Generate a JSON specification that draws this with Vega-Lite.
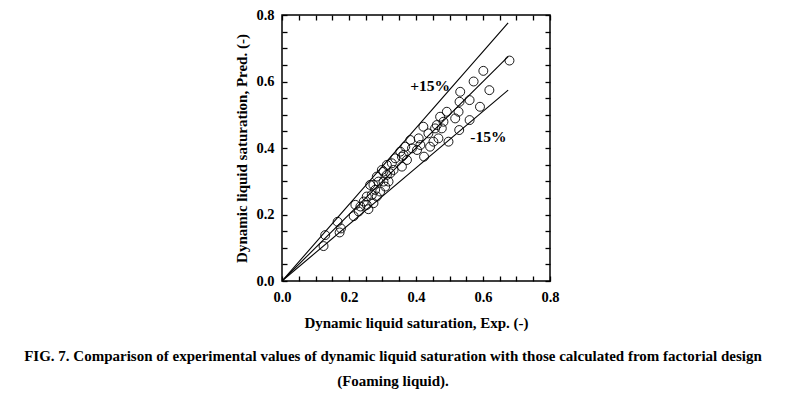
{
  "$schema": "https://vega.github.io/schema/vega-lite/v6.json",
  "width": 268,
  "height": 266,
  "autosize": {"type": "none"},
  "padding": {"left": 282, "top": 15, "right": 237, "bottom": 114},
  "background": "white",
  "config": {
    "view": {"stroke": "black", "strokeWidth": 1.5},
    "font": "Liberation Serif",
    "axis": {
      "domain": false,
      "grid": false,
      "ticks": true,
      "zindex": 2,
      "labelFont": "Liberation Serif",
      "labelFontWeight": "bold",
      "labelFontSize": 14.5,
      "labelColor": "black",
      "titleFont": "Liberation Serif",
      "titleFontWeight": "bold",
      "titleFontSize": 15,
      "titleColor": "black",
      "tickColor": "#000000",
      "tickOpacity": 1,
      "tickWidth": 1.3,
      "labelOverlap": false,
      "labelFlush": false
    }
  },
  "title": {
    "text": ["FIG. 7. Comparison of experimental values of dynamic liquid saturation with those calculated from factorial design", "(Foaming liquid)."],
    "orient": "bottom",
    "anchor": "middle",
    "frame": "group",
    "dx": -23,
    "offset": 18,
    "font": "Liberation Serif",
    "fontSize": 15,
    "fontWeight": "bold",
    "color": "black",
    "lineHeight": 25
  },
  "datasets": {
    "pts": [
      {"exp": 0.124, "pred": 0.105},
      {"exp": 0.129, "pred": 0.138},
      {"exp": 0.166, "pred": 0.178},
      {"exp": 0.172, "pred": 0.146},
      {"exp": 0.176, "pred": 0.158},
      {"exp": 0.214, "pred": 0.195},
      {"exp": 0.219, "pred": 0.229},
      {"exp": 0.234, "pred": 0.224},
      {"exp": 0.229, "pred": 0.209},
      {"exp": 0.244, "pred": 0.239},
      {"exp": 0.253, "pred": 0.254},
      {"exp": 0.253, "pred": 0.229},
      {"exp": 0.258, "pred": 0.216},
      {"exp": 0.263, "pred": 0.289},
      {"exp": 0.268, "pred": 0.259},
      {"exp": 0.273, "pred": 0.234},
      {"exp": 0.273, "pred": 0.289},
      {"exp": 0.278, "pred": 0.274},
      {"exp": 0.283, "pred": 0.314},
      {"exp": 0.288, "pred": 0.299},
      {"exp": 0.283, "pred": 0.254},
      {"exp": 0.293, "pred": 0.269},
      {"exp": 0.298, "pred": 0.334},
      {"exp": 0.303, "pred": 0.299},
      {"exp": 0.303, "pred": 0.329},
      {"exp": 0.308, "pred": 0.284},
      {"exp": 0.313, "pred": 0.349},
      {"exp": 0.313, "pred": 0.319},
      {"exp": 0.318, "pred": 0.299},
      {"exp": 0.323, "pred": 0.324},
      {"exp": 0.328, "pred": 0.354},
      {"exp": 0.333, "pred": 0.334},
      {"exp": 0.338, "pred": 0.369},
      {"exp": 0.358, "pred": 0.344},
      {"exp": 0.358, "pred": 0.374},
      {"exp": 0.353, "pred": 0.389},
      {"exp": 0.363, "pred": 0.379},
      {"exp": 0.368, "pred": 0.404},
      {"exp": 0.373, "pred": 0.364},
      {"exp": 0.383, "pred": 0.424},
      {"exp": 0.388, "pred": 0.399},
      {"exp": 0.403, "pred": 0.394},
      {"exp": 0.408, "pred": 0.429},
      {"exp": 0.413, "pred": 0.409},
      {"exp": 0.422, "pred": 0.464},
      {"exp": 0.424, "pred": 0.374},
      {"exp": 0.437, "pred": 0.444},
      {"exp": 0.442, "pred": 0.404},
      {"exp": 0.452, "pred": 0.419},
      {"exp": 0.457, "pred": 0.459},
      {"exp": 0.462, "pred": 0.469},
      {"exp": 0.467, "pred": 0.429},
      {"exp": 0.472, "pred": 0.494},
      {"exp": 0.477, "pred": 0.459},
      {"exp": 0.482, "pred": 0.479},
      {"exp": 0.492, "pred": 0.509},
      {"exp": 0.497, "pred": 0.419},
      {"exp": 0.517, "pred": 0.489},
      {"exp": 0.527, "pred": 0.509},
      {"exp": 0.529, "pred": 0.454},
      {"exp": 0.530, "pred": 0.539},
      {"exp": 0.532, "pred": 0.569},
      {"exp": 0.560, "pred": 0.544},
      {"exp": 0.560, "pred": 0.484},
      {"exp": 0.572, "pred": 0.600},
      {"exp": 0.591, "pred": 0.524},
      {"exp": 0.601, "pred": 0.632},
      {"exp": 0.619, "pred": 0.574},
      {"exp": 0.679, "pred": 0.663}
    ],
    "lines": [
      {"s": "plus", "exp": 0, "pred": 0},
      {"s": "plus", "exp": 0.675, "pred": 0.776},
      {"s": "mid", "exp": 0, "pred": 0},
      {"s": "mid", "exp": 0.675, "pred": 0.675},
      {"s": "minus", "exp": 0, "pred": 0},
      {"s": "minus", "exp": 0.675, "pred": 0.574}
    ],
    "labels": [
      {"exp": 0.442, "pred": 0.586, "t": "+15%"},
      {"exp": 0.616, "pred": 0.434, "t": "-15%"}
    ]
  },
  "resolve": {"axis": {"x": "independent", "y": "independent"}},
  "layer": [
    {
      "data": {"name": "lines"},
      "mark": {"type": "line", "color": "black", "strokeWidth": 1.1, "clip": true},
      "encoding": {
        "x": {
          "field": "exp", "type": "quantitative",
          "scale": {"domain": [0, 0.8], "nice": false, "zero": false},
          "axis": {
            "orient": "bottom",
            "title": "Dynamic liquid saturation, Exp. (-)",
            "values": [0, 0.05, 0.1, 0.15, 0.2, 0.25, 0.3, 0.35, 0.4, 0.45, 0.5, 0.55, 0.6, 0.65, 0.7, 0.75, 0.8],
            "format": ".1f",
            "labelExpr": "round(datum.value*20) % 4 == 0 ? datum.label : ''",
            "offset": -5,
            "tickSize": 5,
            "labelPadding": 9,
            "titlePadding": 12
          }
        },
        "y": {
          "field": "pred", "type": "quantitative",
          "scale": {"domain": [0, 0.8], "nice": false, "zero": false},
          "axis": {
            "orient": "left",
            "title": "Dynamic liquid saturation, Pred. (-)",
            "values": [0, 0.05, 0.1, 0.15, 0.2, 0.25, 0.3, 0.35, 0.4, 0.45, 0.5, 0.55, 0.6, 0.65, 0.7, 0.75, 0.8],
            "format": ".1f",
            "labelExpr": "round(datum.value*20) % 4 == 0 ? datum.label : ''",
            "offset": -5,
            "tickSize": 5,
            "labelPadding": 8,
            "titlePadding": 6
          }
        },
        "detail": {"field": "s"}
      }
    },
    {
      "data": {"name": "pts"},
      "mark": {"type": "point", "shape": "circle", "filled": false, "color": "black", "strokeWidth": 0.9, "size": 80, "opacity": 1},
      "encoding": {
        "x": {
          "field": "exp", "type": "quantitative",
          "axis": {
            "orient": "top", "title": null, "labels": false,
            "values": [0, 0.05, 0.1, 0.15, 0.2, 0.25, 0.3, 0.35, 0.4, 0.45, 0.5, 0.55, 0.6, 0.65, 0.7, 0.75, 0.8],
            "offset": -5,
            "tickSize": 5
          }
        },
        "y": {
          "field": "pred", "type": "quantitative",
          "axis": {
            "orient": "right", "title": null, "labels": false,
            "values": [0, 0.05, 0.1, 0.15, 0.2, 0.25, 0.3, 0.35, 0.4, 0.45, 0.5, 0.55, 0.6, 0.65, 0.7, 0.75, 0.8],
            "offset": -5,
            "tickSize": 5
          }
        }
      }
    },
    {
      "data": {"name": "labels"},
      "mark": {"type": "text", "font": "Liberation Serif", "fontWeight": "bold", "fontSize": 15.5, "color": "black"},
      "encoding": {
        "x": {"field": "exp", "type": "quantitative", "axis": null},
        "y": {"field": "pred", "type": "quantitative", "axis": null},
        "text": {"field": "t"}
      }
    }
  ]
}
